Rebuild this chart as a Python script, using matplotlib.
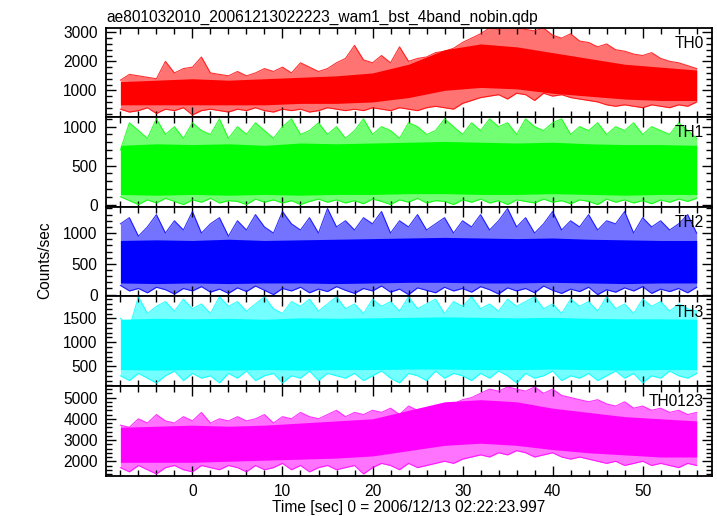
import numpy as np
import matplotlib
matplotlib.use('Agg')
import matplotlib.pyplot as plt
from matplotlib.ticker import MultipleLocator

plt.rcParams['font.family'] = ['Liberation Sans', 'DejaVu Sans']

# time grid of the envelopes (1 s) and of the dense core (4 s)
t = np.arange(-8, 57)
t_core = np.arange(-8, 57, 4)

# TH0 (red)
th0_hi = [1350, 1550, 1500, 1450, 1400, 2000, 1600, 1750, 1800, 2150, 1600, 1550, 1500,
          1650, 1500, 1600, 1750, 1650, 1800, 1600, 1950, 1800, 1650, 1750, 1950, 2100,
          2550, 2050, 1950, 2200, 1950, 2500, 2000, 2100, 2150, 2300, 2350, 2450, 2650,
          2800, 2950, 3150, 3100, 3150, 3150, 3100, 3050, 3150, 2900, 2800, 2950, 2700,
          2650, 2500, 2600, 2400, 2350, 2250, 2200, 2300, 2100, 2000, 1950, 1850, 1750]
th0_lo = [350, 250, 300, 400, 200, 350, 300, 400, 150, 300, 350, 300, 250,
          350, 300, 400, 300, 250, 350, 300, 350, 250, 300, 400, 350, 300,
          350, 300, 400, 350, 300, 400, 350, 300, 400, 450, 400, 350, 550,
          650, 750, 800, 850, 700, 900, 850, 650, 900, 800, 850, 750, 700,
          650, 600, 500, 450, 500, 450, 400, 500, 450, 400, 500, 450, 600]
th0_core_hi = [1300, 1350, 1400, 1350, 1400, 1450, 1500, 1600, 1900, 2400, 2600, 2500, 2300, 2100, 1900, 1800, 1700]
th0_core_lo = [500, 500, 500, 500, 500, 550, 550, 600, 750, 1000, 1100, 1050, 900, 800, 700, 650, 650]

# TH1 (green)
th1_hi = [700, 1050, 950, 850, 1100, 900, 1000, 850, 1050, 950, 900, 1100, 850,
          1000, 900, 1050, 950, 850, 1000, 1100, 900, 950, 1050, 900, 1000, 850,
          950, 1100, 900, 1000, 950, 850, 1050, 1000, 900, 950, 1100, 1000, 900,
          1050, 950, 1100, 1000, 1050, 900, 1100, 1000, 950, 1050, 1100, 900, 1000,
          950, 1050, 900, 1000, 950, 1050, 900, 1000, 950, 900, 1050, 950, 850]
th1_lo = [100, 50, 0, 60, 20, 80, 40, 0, 60, 30, 80, 20, 50,
          40, 0, 70, 30, 60, 20, 50, 0, 40, 70, 30, 60, 20,
          50, 10, 70, 40, 0, 60, 30, 80, 20, 50, 40, 0, 60,
          30, 70, 20, 50, 0, 60, 40, 20, 70, 30, 50, 10, 60,
          40, 0, 70, 30, 60, 20, 50, 10, 60, 30, 70, 40, 80]
th1_core_hi = [760, 780, 770, 780, 760, 790, 780, 790, 800, 810, 800, 790, 800, 780, 770, 770, 760]
th1_core_lo = [130, 120, 130, 120, 130, 120, 130, 130, 140, 140, 130, 130, 140, 130, 120, 130, 130]

# TH2 (blue)
th2_hi = [1150, 1250, 950, 1100, 1300, 1000, 1200, 1050, 1350, 1000, 1150, 1250, 950,
          1200, 1050, 1300, 1100, 1000, 1350, 1150, 1050, 1250, 1000, 1400, 1100, 1200,
          1050, 1250, 1150, 1350, 1000, 1200, 1100, 1300, 1050, 1150, 1250, 1000, 1200,
          1100, 1300, 1050, 1200, 1400, 1100, 1250, 1000, 1150, 1350, 1050, 1200, 1100,
          1300, 1050, 1200, 1150, 1350, 1000, 1250, 1100, 1200, 1050, 1150, 1300, 1000]
th2_lo = [150, 60, 100, 30, 120, 80, 10, 100, 60, 130, 40, 90, 20,
          110, 50, 140, 70, 0, 100, 60, 120, 30, 90, 50, 130, 70,
          20, 100, 60, 140, 40, 90, 0, 110, 70, 30, 120, 60, 100,
          40, 130, 80, 10, 110, 60, 100, 30, 140, 70, 20, 90, 50,
          120, 0, 80, 40, 110, 60, 130, 20, 90, 50, 100, 30, 120]
th2_core_hi = [880, 890, 880, 900, 880, 890, 900, 910, 920, 930, 920, 910, 920, 900, 890, 880, 880]
th2_core_lo = [190, 180, 190, 180, 190, 190, 180, 190, 200, 200, 190, 190, 200, 190, 180, 190, 190]

# TH3 (cyan)
th3_hi = [1500, 1300, 1950, 1600, 1750, 1850, 1650, 1900, 1700, 1800, 1600, 1950, 1750,
          1850, 1650, 1800, 1950, 1700, 1600, 1850, 1750, 1900, 1650, 1800, 1950, 1700,
          1800, 1600, 1900, 1750, 1850, 1650, 1950, 1700, 1800, 1900, 1600, 1850, 1750,
          1950, 1700, 1800, 1650, 1900, 1750, 1850, 1950, 1700, 1800, 1600, 1900, 1750,
          1850, 1650, 1950, 1700, 1800, 1600, 1900, 1750, 1850, 1650, 1800, 1700, 1650]
th3_lo = [300, 200, 350, 250, 150, 300, 400, 200, 350, 250, 300, 150, 350,
          250, 400, 200, 300, 350, 150, 300, 250, 400, 200, 350, 300, 250,
          350, 200, 300, 400, 250, 150, 350, 300, 200, 400, 250, 350, 300,
          200, 350, 250, 400, 300, 150, 350, 250, 300, 400, 200, 300, 250,
          350, 200, 300, 400, 250, 350, 150, 300, 250, 400, 300, 250, 350]
th3_core_hi = [1480, 1500, 1490, 1500, 1480, 1510, 1500, 1510, 1520, 1530, 1520, 1510, 1520, 1500, 1490, 1490, 1480]
th3_core_lo = [430, 420, 430, 420, 430, 420, 430, 430, 440, 440, 430, 430, 440, 430, 420, 430, 430]

# TH0123 (magenta)
th0123_hi = [3700, 3600, 4000, 3800, 4200, 3900, 3800, 4100, 3900, 4300, 3800, 4000, 3900,
             4100, 3900, 4000, 4200, 3800, 4100, 4000, 4300, 4100, 4000, 4200, 4400, 4100,
             4300, 4200, 4400, 4300, 4500, 4200, 4600, 4400, 4500, 4300, 4600, 4700, 4900,
             5000, 5200, 5400, 5300, 5500, 5400, 5300, 5500, 5200, 5400, 5100, 5000, 4900,
             4800, 4900, 4700, 4600, 4800, 4500, 4600, 4400, 4500, 4300, 4400, 4200, 4300]
th0123_lo = [1700, 1500, 1800, 1600, 1400, 1700, 1800, 1600, 1500, 1800, 1700, 1600, 1800,
             1700, 1500, 1800, 1600, 1700, 1900, 1600, 1800, 1500, 1700, 1800, 1600, 1700,
             1800, 1400, 1700, 1900, 1800, 1600, 1900, 1700, 1800, 1900, 2000, 1900, 2100,
             2200, 2300, 2200, 2400, 2300, 2500, 2400, 2200, 2300, 2400, 2200, 2100, 2200,
             2100, 2000, 1900, 2000, 1800, 1900, 2000, 1800, 1900, 1800, 1700, 1900, 1800]
th0123_core_hi = [3600, 3650, 3700, 3650, 3700, 3800, 3900, 4000, 4400, 4800, 4900, 4800, 4500, 4300, 4100, 4000, 3900]
th0123_core_lo = [1950, 1950, 1950, 2000, 2050, 2100, 2150, 2250, 2500, 2750, 2850, 2750, 2550, 2400, 2300, 2200, 2200]

names = ['TH0', 'TH1', 'TH2', 'TH3', 'TH0123']
colors = ['#ff0000', '#00ff00', '#0000ff', '#00ffff', '#ff00ff']
his = [th0_hi, th1_hi, th2_hi, th3_hi, th0123_hi]
los = [th0_lo, th1_lo, th2_lo, th3_lo, th0123_lo]
core_his = [th0_core_hi, th1_core_hi, th2_core_hi, th3_core_hi, th0123_core_hi]
core_los = [th0_core_lo, th1_core_lo, th2_core_lo, th3_core_lo, th0123_core_lo]
ylims = [(70, 3160), (-30, 1120), (-30, 1425), (85, 1955), (1320, 5540)]
majors = [1000, 500, 500, 500, 1000]
minors = [200, 100, 100, 100, 200]

W, H = 717, 516
fs = 11.2
fig = plt.figure(figsize=(W / 100, H / 100), dpi=100)

left, right = 106, 712
top, bottom = 27.7, 475.7
ph = (bottom - top) / 5

for i in range(5):
    y0 = top + ph * (i + 1)
    ax = fig.add_axes([left / W, 1 - y0 / H, (right - left) / W, ph / H])
    c = colors[i]
    # faint spiky envelope, solid dense core
    ax.fill_between(t, los[i], his[i], color=c, alpha=0.55, lw=0)
    ax.plot(t, his[i], color=c, lw=0.8, alpha=0.8)
    ax.plot(t, los[i], color=c, lw=0.8, alpha=0.8)
    ax.fill_between(t_core, core_los[i], core_his[i], color=c, lw=0)
    ax.set_xlim(-9.6, 57.7)
    ax.set_ylim(*ylims[i])
    ax.xaxis.set_major_locator(MultipleLocator(10))
    ax.xaxis.set_minor_locator(MultipleLocator(2))
    ax.yaxis.set_major_locator(MultipleLocator(majors[i]))
    ax.yaxis.set_minor_locator(MultipleLocator(minors[i]))
    ax.tick_params(which='both', direction='in', top=True, right=True, width=1.0, colors='k',
                   labelsize=fs)
    ax.tick_params(which='major', length=7, pad=6)
    ax.tick_params(which='minor', length=4)
    for s in ax.spines.values():
        s.set_linewidth(1.3)
    if i < 4:
        ax.tick_params(labelbottom=False)
    ax.text(0.987, 0.91, names[i], transform=ax.transAxes, ha='right', va='top', fontsize=fs)
    if i == 0:
        ax.text(0.0, 1.03, 'ae801032010_20061213022223_wam1_bst_4band_nobin.qdp',
                transform=ax.transAxes, ha='left', va='bottom', fontsize=fs)
    if i == 4:
        ax.set_xlabel('Time [sec] 0 = 2006/12/13 02:22:23.997', fontsize=fs, labelpad=1)

fig.text(45 / W, 1 - 260 / H, 'Counts/sec', rotation=90, ha='center', va='center', fontsize=fs)

fig.savefig('out.png', dpi=100)
